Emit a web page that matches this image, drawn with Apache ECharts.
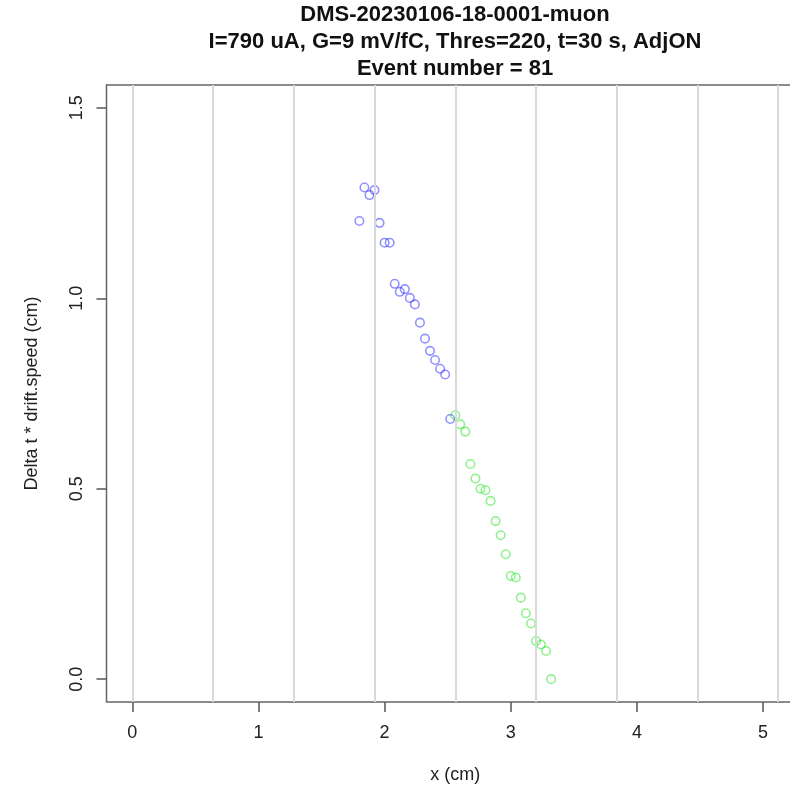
<!DOCTYPE html>
<html>
<head>
<meta charset="utf-8">
<script src="https://cdn.jsdelivr.net/npm/echarts@6/dist/echarts.min.js"></script>
<style>
  html, body { margin: 0; padding: 0; background: #fff; }
  #chart { width: 790px; height: 793px; }
</style>
</head>
<body>
<div id="chart"></div>
<script>
// hits of the two track segments, x (cm) and delta t * drift speed (cm)
const blueX = [1.80, 1.84, 1.88, 1.92, 1.96, 2.00, 2.04, 2.08, 2.12, 2.16,
               2.20, 2.24, 2.28, 2.32, 2.36, 2.40, 2.44, 2.48, 2.52];
const blueY = [1.203, 1.291, 1.271, 1.284, 1.198, 1.146, 1.146, 1.038, 1.017, 1.024,
               1.001, 0.984, 0.936, 0.894, 0.862, 0.838, 0.815, 0.800, 0.683];
const greenX = [2.56, 2.60, 2.64, 2.68, 2.72, 2.76, 2.80, 2.84, 2.88, 2.92,
                2.96, 3.00, 3.04, 3.08, 3.12, 3.16, 3.20, 3.24, 3.28, 3.32];
const greenY = [0.693, 0.669, 0.650, 0.565, 0.527, 0.500, 0.496, 0.468, 0.415, 0.378,
                0.328, 0.271, 0.267, 0.214, 0.173, 0.146, 0.100, 0.091, 0.074, 0.000];
// vertical wire lines (0.64 cm pitch)
const wireX = [0, 0.64, 1.28, 1.92, 2.56, 3.20, 3.84, 4.48, 5.12];
const xTicks = [0, 1, 2, 3, 4, 5];
const yTicks = [0, 0.5, 1.0, 1.5];
const titleLines = [
  'DMS-20230106-18-0001-muon',
  'I=790 uA, G=9 mV/fC, Thres=220, t=30 s, AdjON',
  'Event number = 81'
];

const chart = echarts.init(document.getElementById('chart'), null, { renderer: 'canvas' });

const fontFamily = '"Liberation Sans", Arial, Helvetica, sans-serif';

function pairs(xs, ys) {
  return xs.map((x, i) => [x, ys[i]]);
}

chart.setOption({
  backgroundColor: '#ffffff',
  animation: false,
  graphic: titleLines.map((t, i) => ({
    type: 'text',
    x: 455,
    y: 15 + i * 27,
    silent: true,
    style: {
      text: t,
      font: 'bold 22px ' + fontFamily,
      fill: '#111',
      align: 'center',
      verticalAlign: 'middle'
    }
  })),
  grid: {
    left: 106.5,
    right: -14,
    top: 85,
    bottom: 91,
    show: true,
    borderColor: '#666',
    borderWidth: 1.5,
    backgroundColor: 'transparent',
    outerBoundsMode: 'none'
  },
  xAxis: {
    type: 'value',
    min: -0.2048,
    max: 5.3248,
    name: 'x (cm)',
    nameLocation: 'middle',
    nameGap: 64,
    nameTextStyle: { fontSize: 18, color: '#222', fontFamily: fontFamily },
    axisLine: { show: false, onZero: false },
    axisTick: {
      show: true, inside: false, length: 10,
      customValues: xTicks,
      lineStyle: { color: '#555', width: 1.5 }
    },
    axisLabel: {
      show: true, margin: 22,
      customValues: xTicks,
      fontSize: 18, color: '#222', fontFamily: fontFamily,
      formatter: v => String(v)
    },
    splitLine: { show: false }
  },
  yAxis: {
    type: 'value',
    min: -0.06,
    max: 1.56,
    name: 'Delta t * drift.speed (cm)',
    nameLocation: 'middle',
    nameGap: 65,
    nameRotate: 90,
    nameTextStyle: { fontSize: 18, color: '#222', fontFamily: fontFamily },
    axisLine: { show: false, onZero: false },
    axisTick: {
      show: true, inside: false, length: 10,
      customValues: yTicks,
      lineStyle: { color: '#555', width: 1.5 }
    },
    axisLabel: {
      show: true, margin: 20, rotate: 90,
      customValues: yTicks,
      fontSize: 18, color: '#222', fontFamily: fontFamily,
      formatter: v => v.toFixed(1)
    },
    splitLine: { show: false }
  },
  series: [
    {
      name: 'wires',
      type: 'scatter',
      data: [],
      silent: true,
      markLine: {
        silent: true,
        symbol: 'none',
        animation: false,
        label: { show: false },
        lineStyle: { color: '#d9d9d9', type: 'solid', width: 2 },
        emphasis: { disabled: true },
        data: wireX.map(x => ({ xAxis: x }))
      }
    },
    {
      name: 'seg1',
      type: 'scatter',
      symbol: 'circle',
      symbolSize: 8.5,
      data: pairs(blueX, blueY),
      itemStyle: { color: 'rgba(255,255,255,0)', borderColor: 'rgba(30,30,255,0.6)', borderWidth: 1.6 },
      emphasis: { disabled: true }
    },
    {
      name: 'seg2',
      type: 'scatter',
      symbol: 'circle',
      symbolSize: 8.5,
      data: pairs(greenX, greenY),
      itemStyle: { color: 'rgba(255,255,255,0)', borderColor: 'rgba(0,225,0,0.55)', borderWidth: 1.6 },
      emphasis: { disabled: true }
    }
  ]
});
</script>
</body>
</html>
